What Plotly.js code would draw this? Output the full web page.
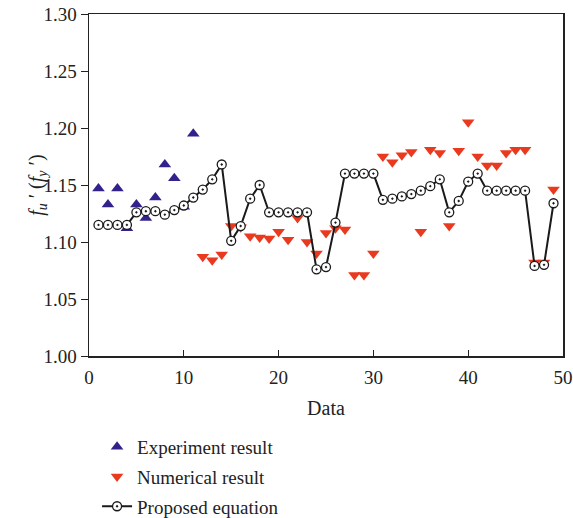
<!DOCTYPE html>
<html>
<head>
<meta charset="utf-8">
<script src="https://cdn.plot.ly/plotly-3.0.1.min.js"></script>
<style>html,body{margin:0;padding:0;background:#fff}#chart{width:573px;height:518px}</style>
</head>
<body>
<div id="chart"></div>
<script>
const expX = [1,2,3,4,5,6,7,8,9,10,11];
const expY = [1.147,1.133,1.147,1.112,1.133,1.121,1.139,1.168,1.156,1.131,1.195];

const numX = [12,13,14,15,16,17,18,19,20,21,22,23,24,25,26,27,28,29,30,31,32,33,34,35,36,37,38,39,40,41,42,43,44,45,46,47,48,49];
const numY = [1.087,1.084,1.089,1.114,1.113,1.105,1.104,1.103,1.109,1.102,1.121,1.100,1.090,1.108,1.112,1.111,1.071,1.071,1.090,1.175,1.170,1.176,1.179,1.109,1.181,1.178,1.114,1.180,1.205,1.175,1.167,1.167,1.178,1.181,1.181,1.082,1.082,1.146];

const eqX = [1,2,3,4,5,6,7,8,9,10,11,12,13,14,15,16,17,18,19,20,21,22,23,24,25,26,27,28,29,30,31,32,33,34,35,36,37,38,39,40,41,42,43,44,45,46,47,48,49];
const eqY = [1.115,1.115,1.115,1.115,1.126,1.127,1.127,1.124,1.128,1.132,1.139,1.146,1.155,1.168,1.101,1.114,1.138,1.150,1.126,1.126,1.126,1.126,1.126,1.076,1.078,1.117,1.160,1.160,1.160,1.160,1.137,1.138,1.140,1.142,1.145,1.149,1.155,1.126,1.136,1.153,1.160,1.145,1.145,1.145,1.145,1.145,1.079,1.080,1.134];

const xTicks = [0,10,20,30,40,50];
const yTicks = [1.00,1.05,1.10,1.15,1.20,1.25,1.30];
const yTitle = "<i>f<sub>u</sub></i> ′ (<i>f<sub>y</sub></i> ′)";

const font = "Liberation Serif, DejaVu Serif, serif";

const traces = [
  {x: expX, y: expY, type: 'scatter', mode: 'markers', name: 'Experiment result', legendgroup: 'a',
   marker: {symbol: 'triangle-up', size: 11, color: '#33218c'}},
  {x: numX, y: numY, type: 'scatter', mode: 'markers', name: 'Numerical result', legendgroup: 'b',
   marker: {symbol: 'triangle-down', size: 11, color: '#e93a1f'}},
  {x: eqX, y: eqY, type: 'scatter', mode: 'lines+markers', name: 'Proposed equation', legendgroup: 'c',
   line: {color: '#1a1a1a', width: 2},
   marker: {symbol: 'circle-dot', size: 9, color: '#ffffff', line: {color: '#1a1a1a', width: 1.3}}}
];

const layout = {
  width: 573, height: 518,
  margin: {l: 89, r: 10, t: 14, b: 162, autoexpand: false},
  paper_bgcolor: '#fff', plot_bgcolor: '#fff',
  font: {family: font, size: 19, color: '#222'},
  showlegend: true,
  legend: {x: 0.017, y: -0.2105, xanchor: 'left', yanchor: 'top', orientation: 'v',
           tracegroupgap: 2, font: {family: font, size: 19, color: '#222'}, bgcolor: 'rgba(0,0,0,0)'},
  xaxis: {range: [0, 50], tickvals: xTicks, ticktext: xTicks.map(String), ticks: 'inside', ticklen: 6,
          ticklabelstandoff: 4,
          tickcolor: '#222', showline: true, linecolor: '#222', linewidth: 1.5, mirror: true,
          showgrid: false, zeroline: false, tickfont: {family: font, size: 19},
          title: {text: 'Data', font: {family: font, size: 20}, standoff: 13}},
  yaxis: {range: [1.00, 1.30], tickvals: yTicks, ticktext: yTicks.map(v => v.toFixed(2)), ticks: 'outside', ticklen: 7,
          tickcolor: '#222', showline: true, linecolor: '#222', linewidth: 1.5, mirror: true,
          showgrid: false, zeroline: false, tickfont: {family: font, size: 19}},
  annotations: [{text: yTitle, xref: 'paper', yref: 'paper', x: -0.11, y: 0.5, xanchor: 'center', yanchor: 'middle',
                 textangle: -90, showarrow: false, font: {family: font, size: 20, color: '#222'}}]
};

Plotly.newPlot('chart', traces, layout, {displayModeBar: false, staticPlot: true});
</script>
</body>
</html>
